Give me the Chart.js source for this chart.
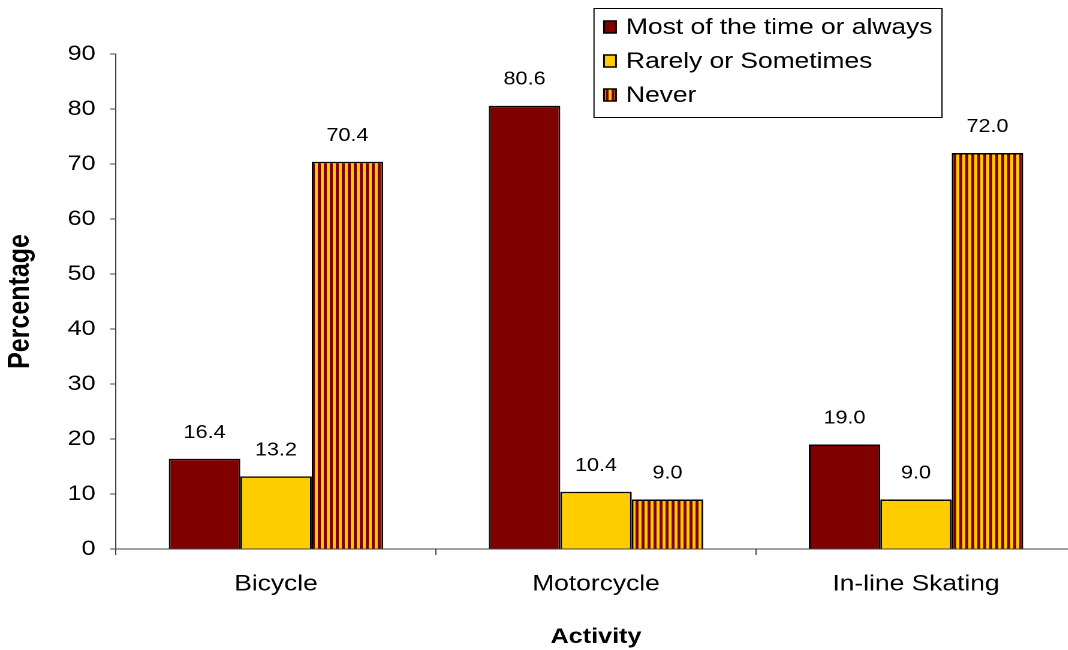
<!DOCTYPE html>
<html>
<head>
<meta charset="utf-8">
<script src="https://cdn.jsdelivr.net/npm/chart.js@4"></script>
<style>
  html, body { margin: 0; padding: 0; background: #fff; overflow: hidden; }
  /* the reference text is wider than it is tall, so the chart is drawn narrow and stretched */
  #chart { display: block; width: 1084px !important; height: 650px !important; }
</style>
</head>
<body>
<canvas id="chart" width="904" height="650"></canvas>
<script>
const activities = ["Bicycle", "Motorcycle", "In-line Skating"];
const seriesNames = ["Most of the time or always", "Rarely or Sometimes", "Never"];
const mostValues = [16.4, 80.6, 19.0];
const rarelyValues = [13.2, 10.4, 9.0];
const neverValues = [70.4, 9.0, 72.0];

const SX = 1084 / 904;
const MAROON = "#800000";
const YELLOW = "#FFCC00";
const FONT = "'Liberation Sans', Arial, sans-serif";

function stripes() {
  const c = document.createElement("canvas");
  c.width = 10;
  c.height = 10;
  const g = c.getContext("2d");
  g.fillStyle = YELLOW;
  g.fillRect(0, 0, 10, 10);
  g.fillStyle = MAROON;
  g.fillRect(0, 0, 5, 10);
  const p = g.createPattern(c, "repeat");
  p.setTransform(new DOMMatrix().scale(0.5, 0.5));
  return p;
}
const stripePattern = stripes();

const valueLabels = {
  id: "valueLabels",
  afterDatasetsDraw(chart) {
    const ctx = chart.ctx;
    ctx.save();
    ctx.font = "18px " + FONT;
    ctx.fillStyle = "#000";
    ctx.textAlign = "center";
    ctx.textBaseline = "middle";
    chart.data.datasets.forEach((ds, i) => {
      chart.getDatasetMeta(i).data.forEach((bar, j) => {
        ctx.fillText(ds.data[j].toFixed(1), bar.x, bar.y - 26);
      });
    });
    ctx.restore();
  }
};

const boxLegend = {
  id: "boxLegend",
  afterDraw(chart) {
    const ctx = chart.ctx;
    const fills = [MAROON, YELLOW, stripePattern];
    const bx = 594 / SX, bw = 348 / SX;
    ctx.save();
    ctx.fillStyle = "#fff";
    ctx.fillRect(bx, 8.5, bw, 109);
    ctx.strokeStyle = "#000";
    ctx.lineWidth = 1;
    ctx.strokeRect(bx, 8.5, bw, 109);
    ctx.font = "22px " + FONT;
    ctx.textBaseline = "middle";
    ctx.textAlign = "left";
    seriesNames.forEach((name, i) => {
      const y = 27 + i * 34;
      const sx = 604 / SX, sw = 12 / SX;
      ctx.fillStyle = fills[i];
      ctx.fillRect(sx, y - 6, sw, 12);
      ctx.lineWidth = 1.5;
      ctx.strokeStyle = "#000";
      ctx.strokeRect(sx, y - 6, sw, 12);
      ctx.fillStyle = "#000";
      ctx.fillText(name, 626 / SX, y + 1);
    });
    ctx.restore();
  }
};

const ctx = document.getElementById("chart").getContext("2d");
new Chart(ctx, {
  type: "bar",
  data: {
    labels: activities,
    datasets: [
      { label: seriesNames[0], data: mostValues, backgroundColor: MAROON },
      { label: seriesNames[1], data: rarelyValues, backgroundColor: YELLOW },
      { label: seriesNames[2], data: neverValues, backgroundColor: stripePattern }
    ].map((d) => ({
      ...d,
      borderColor: "#000",
      borderWidth: 1.5,
      borderSkipped: "bottom",
      categoryPercentage: 0.67,
      barPercentage: 1
    }))
  },
  options: {
    responsive: false,
    animation: false,
    devicePixelRatio: 2,
    layout: { padding: { top: 54, right: 904 - 1076 / SX, left: 0, bottom: 0 } },
    plugins: {
      legend: { display: false },
      tooltip: { enabled: false }
    },
    scales: {
      x: {
        afterFit: (s) => { s.height = 101; },
        grid: {
          offset: true,
          drawOnChartArea: false,
          tickLength: 6,
          color: "#444"
        },
        border: { color: "#444", width: 1 },
        ticks: { color: "#000", font: { family: FONT, size: 22 }, padding: 16 },
        title: {
          display: true,
          text: "Activity",
          color: "#000",
          font: { family: FONT, size: 21, weight: "bold" },
          padding: { top: 6, bottom: 0 }
        }
      },
      y: {
        min: 0,
        max: 90,
        afterFit: (s) => { s.width = 116 / SX; },
        grid: { drawOnChartArea: false, tickLength: 6 / SX, color: "#444" },
        border: { color: "#444", width: 1 },
        ticks: { stepSize: 10, color: "#000", font: { family: FONT, size: 21 }, padding: 12 },
        title: {
          display: true,
          text: "Percentage",
          color: "#000",
          font: { family: FONT, size: 25, weight: "bold" },
          padding: { top: 2, bottom: 0 }
        }
      }
    }
  },
  plugins: [valueLabels, boxLegend]
});
</script>
</body>
</html>
